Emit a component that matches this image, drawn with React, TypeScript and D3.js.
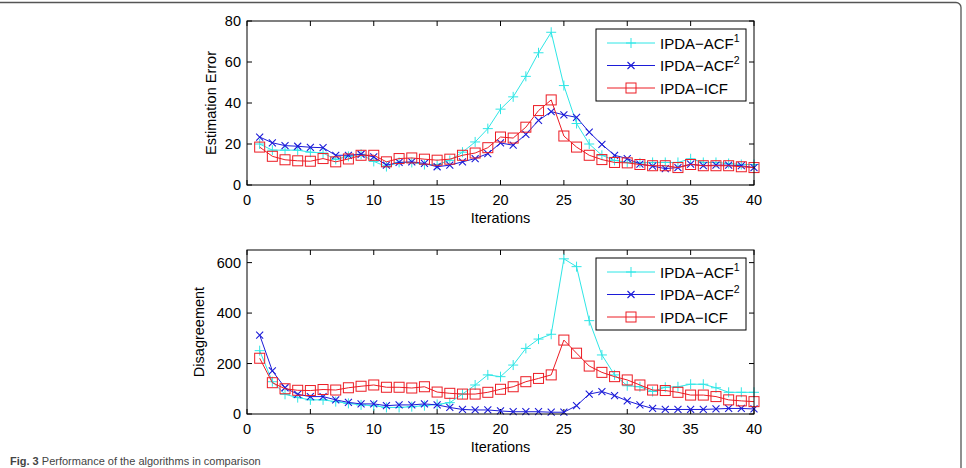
import React from "react";
import * as d3 from "d3";

// iteration index 1..40
const iterations = [
  1, 2, 3, 4, 5, 6, 7, 8, 9, 10, 11, 12, 13, 14, 15, 16, 17, 18, 19, 20,
  21, 22, 23, 24, 25, 26, 27, 28, 29, 30, 31, 32, 33, 34, 35, 36, 37, 38, 39, 40,
];

// Estimation error
const errAcf1 = [
  20, 17, 17, 17, 16, 15.6, 12.5, 14, 15, 11.5, 9, 11, 11, 10, 10, 12, 16, 21, 27.5, 37,
  43, 53, 64.5, 74.5, 48.5, 30, 20, 14.5, 12, 11, 10.8, 11, 11, 11, 12.8, 11, 11, 10.5, 10, 10,
];
const errAcf2 = [
  23.4, 20.6, 19.2, 18.9, 18.4, 18.2, 14.5, 14.5, 15, 13.7, 9.7, 11, 11.3, 10.5, 8.9, 9.7, 11.3, 12.9, 15.3, 20.5,
  19.4, 24.7, 31.5, 35.8, 34.2, 33, 25.8, 19.8, 14.5, 12.9, 10.2, 9.2, 8, 8.5, 10.2, 9.4, 9.7, 9.7, 9.4, 8.5,
];
const errIcf = [
  18.5, 14, 12.3, 11.8, 11.6, 12.9, 11.3, 12.7, 14.5, 14.5, 11.3, 12.9, 13.2, 12.6, 12.1, 12.6, 14.5, 15.6, 18.2, 23.4,
  22.9, 28.2, 36.3, 41.5, 23.9, 18.5, 14.5, 12.4, 11, 10.8, 10, 9.4, 9.4, 8.5, 10, 9.4, 9.4, 9.4, 8.9, 8.5,
];

// Disagreement
const disAcf1 = [
  251, 128, 78, 65, 56, 56, 49, 42, 36, 33, 26, 26, 29, 33, 38, 45, 79, 115, 155, 148,
  194, 260, 297, 316, 615, 584, 370, 234, 155, 112, 108, 89, 106, 108, 118, 118, 104, 86, 86, 86,
];
const disAcf2 = [
  313, 171, 104, 78, 69, 69, 56, 46, 40, 40, 33, 36, 36, 40, 36, 26, 18, 16, 16, 12,
  9, 9, 9, 7, 7, 33, 79, 89, 73, 52, 36, 22, 18, 18, 18, 18, 20, 22, 22, 20,
];
const disIcf = [
  221, 124, 100, 94, 93, 97, 95, 104, 110, 115, 106, 106, 103, 108, 87, 82, 79, 79, 86, 98,
  108, 128, 141, 155, 293, 241, 190, 165, 148, 135, 115, 95, 93, 86, 75, 75, 69, 56, 52, 49,
];

const xTicks = [0, 5, 10, 15, 20, 25, 30, 35, 40];
const errTicks = [0, 20, 40, 60, 80];
const disTicks = [0, 200, 400, 600];

const seriesNames = ["IPDA\u2212ACF", "IPDA\u2212ACF", "IPDA\u2212ICF"];
const seriesSup = ["1", "2", ""];
const colors = ["#2fe6e6", "#1c1cd8", "#ec1c24"];
const markers = ["plus", "cross", "square"];

const FONT = "'Liberation Sans', Arial, Helvetica, sans-serif";

function Marker({ type, x, y, color }: { type: string; x: number; y: number; color: string }) {
  if (type === "plus") {
    return (
      <path d={`M${x - 5},${y}H${x + 5}M${x},${y - 5}V${y + 5}`} stroke={color} strokeWidth={1} fill="none" />
    );
  }
  if (type === "cross") {
    return (
      <path
        d={`M${x - 3.5},${y - 3.5}L${x + 3.5},${y + 3.5}M${x - 3.5},${y + 3.5}L${x + 3.5},${y - 3.5}`}
        stroke={color}
        strokeWidth={1.1}
        fill="none"
      />
    );
  }
  return <rect x={x - 5} y={y - 5} width={10} height={10} stroke={color} strokeWidth={1} fill="none" />;
}

function Panel({
  top,
  bottom,
  yMax,
  yTicks,
  yLabel,
  labelX,
  series,
}: {
  top: number;
  bottom: number;
  yMax: number;
  yTicks: number[];
  yLabel: string;
  labelX: number;
  series: number[][];
}) {
  const left = 247;
  const right = 754;
  const x = d3.scaleLinear().domain([0, 40]).range([left, right]);
  const y = d3.scaleLinear().domain([0, yMax]).range([bottom, top]);
  const line = d3
    .line<number>()
    .x((_, i) => x(iterations[i]))
    .y((d) => y(d));
  const tl = 5;
  const legTop = top + 8;
  const legLeft = 596;

  return (
    <g fontFamily={FONT}>
      {/* ticks */}
      {xTicks.map((t) => (
        <g key={"x" + t}>
          <line x1={x(t)} x2={x(t)} y1={bottom} y2={bottom - tl} stroke="#000" />
          <line x1={x(t)} x2={x(t)} y1={top} y2={top + tl} stroke="#000" />
          <text x={x(t)} y={bottom + 20} textAnchor="middle" fontSize={14.5}>
            {t}
          </text>
        </g>
      ))}
      {yTicks.map((t) => (
        <g key={"y" + t}>
          <line x1={left} x2={left + tl} y1={y(t)} y2={y(t)} stroke="#000" />
          <line x1={right} x2={right - tl} y1={y(t)} y2={y(t)} stroke="#000" />
          <text x={241} y={y(t) + 5} textAnchor="end" fontSize={14.5}>
            {t}
          </text>
        </g>
      ))}
      <text x={(left + right) / 2} y={bottom + 38} textAnchor="middle" fontSize={14.5}>
        Iterations
      </text>
      <text
        transform={`translate(${labelX},${(top + bottom) / 2}) rotate(-90)`}
        textAnchor="middle"
        fontSize={14.5}
      >
        {yLabel}
      </text>

      {/* series */}
      {series.map((s, si) => (
        <g key={"s" + si}>
          <path d={line(s) || ""} stroke={colors[si]} strokeWidth={1} fill="none" />
          {s.map((v, i) => (
            <Marker key={i} type={markers[si]} x={x(iterations[i])} y={y(v)} color={colors[si]} />
          ))}
        </g>
      ))}

      {/* box */}
      <rect x={left} y={top} width={right - left} height={bottom - top} fill="none" stroke="#000" strokeWidth={1} />

      {/* legend */}
      <rect x={legLeft} y={legTop} width={150} height={72} fill="#fff" stroke="#000" strokeWidth={1} />
      {seriesNames.map((n, i) => {
        const cy = legTop + 14 + i * 22.5;
        return (
          <g key={"l" + i}>
            <line x1={607} x2={655} y1={cy} y2={cy} stroke={colors[i]} strokeWidth={1} />
            <Marker type={markers[i]} x={631} y={cy} color={colors[i]} />
            <text x={660} y={cy + 5.5} fontSize={15}>
              {n}
              {seriesSup[i] && (
                <tspan fontSize={10.5} dy={-7}>
                  {seriesSup[i]}
                </tspan>
              )}
            </text>
          </g>
        );
      })}
    </g>
  );
}

export default function App() {
  return (
    <svg
      width={966}
      height={468}
      style={{ position: "absolute", left: 0, top: 0, background: "#fff" }}
    >
      <rect x={0} y={0} width={966} height={468} fill="#fff" />
      <path d="M0,2.5H956A5,5 0 0 1 961,7.5V468" fill="none" stroke="#555" strokeWidth={1.3} />
      <Panel top={21} bottom={185} yMax={80} yTicks={errTicks} yLabel="Estimation Error" labelX={216} series={[errAcf1, errAcf2, errIcf]} />
      <Panel top={250} bottom={414} yMax={650} yTicks={disTicks} yLabel="Disagreement" labelX={204} series={[disAcf1, disAcf2, disIcf]} />
      <text x={10} y={465} fontSize={11} fontFamily={FONT} fill="#444">
        <tspan fontWeight="bold">Fig. 3</tspan> Performance of the algorithms in comparison
      </text>
    </svg>
  );
}
